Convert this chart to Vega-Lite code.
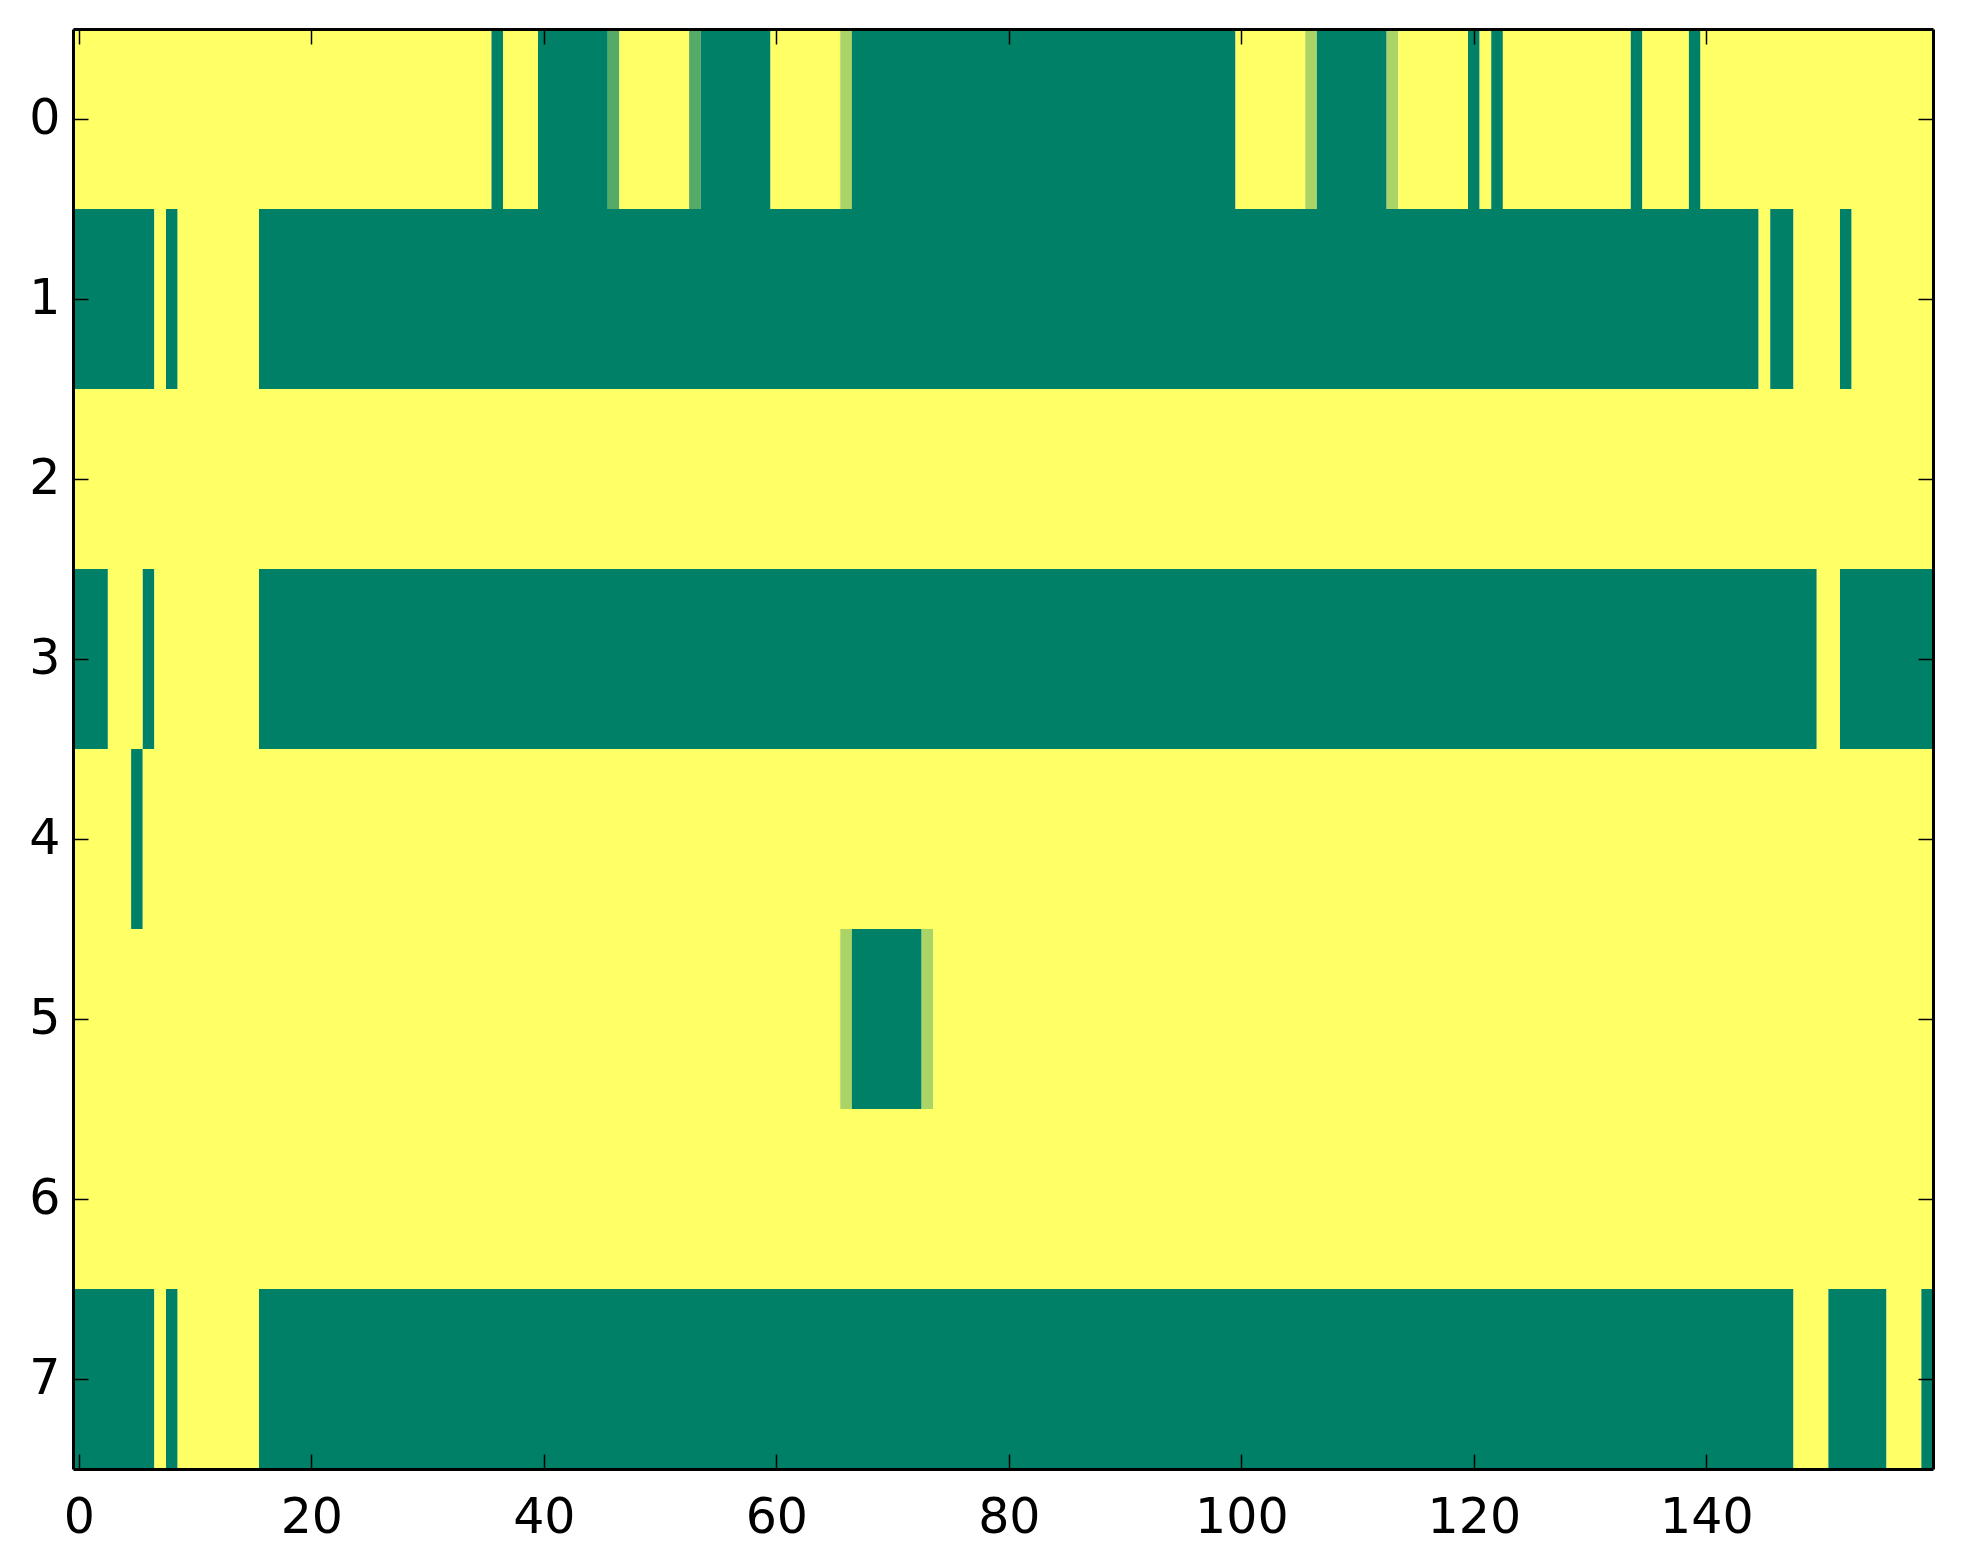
{
  "$schema": "https://vega.github.io/schema/vega-lite/v6.json",
  "width": 1860,
  "height": 1440,
  "autosize": "none",
  "padding": {"left": 73, "top": 29, "right": 30, "bottom": 95},
  "background": "white",
  "config": {
    "view": {"stroke": null},
    "axis": {
      "labelFont": "DejaVu Sans",
      "labelFontSize": 49,
      "labelColor": "black",
      "domainColor": "black",
      "domainWidth": 3,
      "tickColor": "black",
      "tickWidth": 1.5,
      "tickSize": -15,
      "grid": false,
      "title": null
    }
  },
  "data": {
    "values": [
      {"row": 0, "start": -0.5, "end": 35.5, "value": 0},
      {"row": 0, "start": 35.5, "end": 36.5, "value": 1},
      {"row": 0, "start": 36.5, "end": 39.5, "value": 0},
      {"row": 0, "start": 39.5, "end": 45.5, "value": 1},
      {"row": 0, "start": 45.5, "end": 46.5, "value": 0.667},
      {"row": 0, "start": 46.5, "end": 52.5, "value": 0},
      {"row": 0, "start": 52.5, "end": 53.5, "value": 0.667},
      {"row": 0, "start": 53.5, "end": 59.5, "value": 1},
      {"row": 0, "start": 59.5, "end": 65.5, "value": 0},
      {"row": 0, "start": 65.5, "end": 66.5, "value": 0.333},
      {"row": 0, "start": 66.5, "end": 99.5, "value": 1},
      {"row": 0, "start": 99.5, "end": 105.5, "value": 0},
      {"row": 0, "start": 105.5, "end": 106.5, "value": 0.333},
      {"row": 0, "start": 106.5, "end": 112.5, "value": 1},
      {"row": 0, "start": 112.5, "end": 113.5, "value": 0.333},
      {"row": 0, "start": 113.5, "end": 119.5, "value": 0},
      {"row": 0, "start": 119.5, "end": 120.5, "value": 1},
      {"row": 0, "start": 120.5, "end": 121.5, "value": 0},
      {"row": 0, "start": 121.5, "end": 122.5, "value": 1},
      {"row": 0, "start": 122.5, "end": 133.5, "value": 0},
      {"row": 0, "start": 133.5, "end": 134.5, "value": 1},
      {"row": 0, "start": 134.5, "end": 138.5, "value": 0},
      {"row": 0, "start": 138.5, "end": 139.5, "value": 1},
      {"row": 0, "start": 139.5, "end": 159.5, "value": 0},
      {"row": 1, "start": -0.5, "end": 6.5, "value": 1},
      {"row": 1, "start": 6.5, "end": 7.5, "value": 0},
      {"row": 1, "start": 7.5, "end": 8.5, "value": 1},
      {"row": 1, "start": 8.5, "end": 15.5, "value": 0},
      {"row": 1, "start": 15.5, "end": 144.5, "value": 1},
      {"row": 1, "start": 144.5, "end": 145.5, "value": 0},
      {"row": 1, "start": 145.5, "end": 147.5, "value": 1},
      {"row": 1, "start": 147.5, "end": 151.5, "value": 0},
      {"row": 1, "start": 151.5, "end": 152.5, "value": 1},
      {"row": 1, "start": 152.5, "end": 159.5, "value": 0},
      {"row": 2, "start": -0.5, "end": 159.5, "value": 0},
      {"row": 3, "start": -0.5, "end": 2.5, "value": 1},
      {"row": 3, "start": 2.5, "end": 5.5, "value": 0},
      {"row": 3, "start": 5.5, "end": 6.5, "value": 1},
      {"row": 3, "start": 6.5, "end": 15.5, "value": 0},
      {"row": 3, "start": 15.5, "end": 149.5, "value": 1},
      {"row": 3, "start": 149.5, "end": 151.5, "value": 0},
      {"row": 3, "start": 151.5, "end": 159.5, "value": 1},
      {"row": 4, "start": -0.5, "end": 4.5, "value": 0},
      {"row": 4, "start": 4.5, "end": 5.5, "value": 1},
      {"row": 4, "start": 5.5, "end": 159.5, "value": 0},
      {"row": 5, "start": -0.5, "end": 65.5, "value": 0},
      {"row": 5, "start": 65.5, "end": 66.5, "value": 0.333},
      {"row": 5, "start": 66.5, "end": 72.5, "value": 1},
      {"row": 5, "start": 72.5, "end": 73.5, "value": 0.333},
      {"row": 5, "start": 73.5, "end": 159.5, "value": 0},
      {"row": 6, "start": -0.5, "end": 159.5, "value": 0},
      {"row": 7, "start": -0.5, "end": 6.5, "value": 1},
      {"row": 7, "start": 6.5, "end": 7.5, "value": 0},
      {"row": 7, "start": 7.5, "end": 8.5, "value": 1},
      {"row": 7, "start": 8.5, "end": 15.5, "value": 0},
      {"row": 7, "start": 15.5, "end": 147.5, "value": 1},
      {"row": 7, "start": 147.5, "end": 150.5, "value": 0},
      {"row": 7, "start": 150.5, "end": 155.5, "value": 1},
      {"row": 7, "start": 155.5, "end": 158.5, "value": 0},
      {"row": 7, "start": 158.5, "end": 159.5, "value": 1}
    ]
  },
  "layer": [
    {
      "mark": {"type": "rect", "strokeWidth": 0},
      "encoding": {
        "x": {
          "field": "start", "type": "quantitative",
          "scale": {"domain": [-0.5, 159.5], "nice": false, "zero": false},
          "axis": {"orient": "bottom", "values": [0, 20, 40, 60, 80, 100, 120, 140], "labelPadding": 39, "labelFlush": false, "zindex": 2}
        },
        "x2": {"field": "end"},
        "y": {
          "field": "row", "type": "ordinal",
          "scale": {"domain": [0, 1, 2, 3, 4, 5, 6, 7], "paddingInner": 0, "paddingOuter": 0},
          "axis": {"orient": "left", "labelPadding": 28, "labelAngle": 0, "zindex": 2}
        },
        "color": {
          "field": "value", "type": "quantitative",
          "scale": {"domain": [0, 1], "range": ["#ffff66", "#008066"], "interpolate": "rgb"},
          "legend": null
        }
      }
    },
    {
      "mark": {"type": "rect", "opacity": 0},
      "encoding": {
        "x": {
          "field": "start", "type": "quantitative",
          "axis": {"orient": "top", "values": [0, 20, 40, 60, 80, 100, 120, 140], "labels": false, "zindex": 2}
        },
        "x2": {"field": "end"},
        "y": {
          "field": "row", "type": "ordinal",
          "axis": {"orient": "right", "labels": false, "zindex": 2}
        }
      }
    }
  ],
  "resolve": {"axis": {"x": "independent", "y": "independent"}}
}
